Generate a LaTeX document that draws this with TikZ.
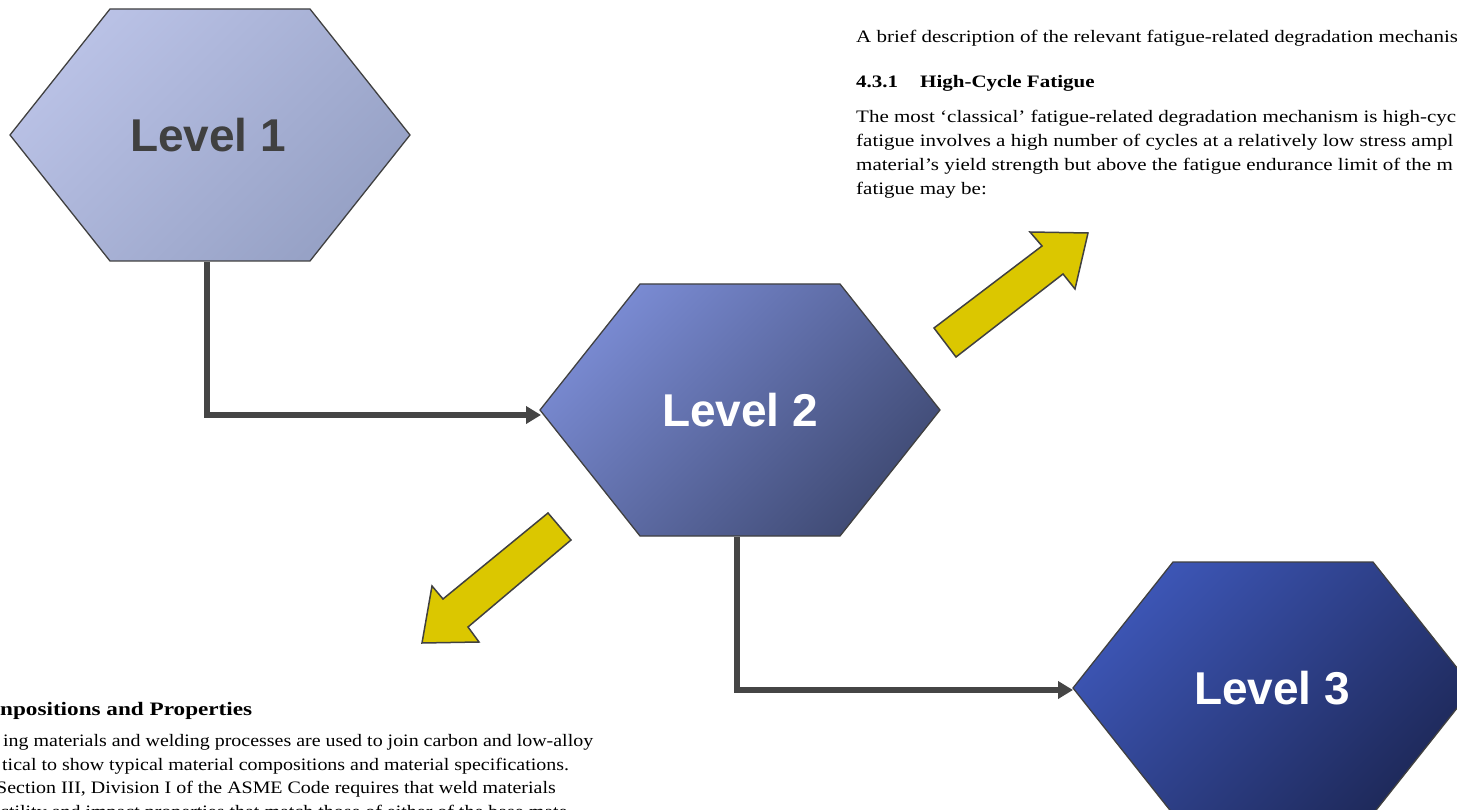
\documentclass[tikz,border=0pt]{standalone}
\usepackage{fontspec}
\setmainfont{Liberation Serif}
\newfontfamily\lvlfont{Liberation Sans}
\newfontfamily\topserif{Liberation Serif}[FakeStretch=1.2]
\newfontfamily\botserif{Liberation Serif}[FakeStretch=1.14]
\newfontfamily\botheadserif{Liberation Serif}[FakeStretch=1.22]
\usetikzlibrary{arrows.meta,positioning,calc}

\definecolor{edgegrey}{HTML}{404040}
\definecolor{linkgrey}{HTML}{454545}
\definecolor{arrowyellow}{HTML}{DBC700}
\definecolor{lvlonetop}{HTML}{BAC2E6}
\definecolor{lvlonebot}{HTML}{96A1C5}
\definecolor{lvltwotop}{HTML}{7A8BD3}
\definecolor{lvltwobot}{HTML}{404B75}
\definecolor{lvlthreetop}{HTML}{3D56B6}
\definecolor{lvlthreebot}{HTML}{1E295A}

\tikzset{
  hexlvl/.style={draw=edgegrey, line width=1.3pt},
  link/.style={draw=linkgrey, line width=5.5pt, -{Triangle[length=15pt,width=17pt]}},
  bigarrow/.style={fill=arrowyellow, draw=edgegrey, line width=1.5pt},
  lvllabel/.style={font=\lvlfont\bfseries\fontsize{46}{50}\selectfont},
  toptext/.style={anchor=base west, inner sep=0pt, font=\topserif\fontsize{17.5}{24}\selectfont},
  tophead/.style={toptext, font=\topserif\fontsize{17.5}{24}\selectfont\bfseries},
  bottext/.style={anchor=base west, inner sep=0pt, font=\botserif\fontsize{17.5}{24}\selectfont},
  bothead/.style={anchor=base west, inner sep=0pt, font=\botheadserif\fontsize{19}{24}\selectfont\bfseries}
}

% hexagon: name, centre x, centre y, top colour, bottom colour
\newcommand{\hexlevel}[5]{%
  \shade[hexlvl, top color=#4, bottom color=#5, shading angle=45]
    (#2-200,#3) -- (#2-100,#3-126) -- (#2+100,#3-126) -- (#2+200,#3)
    -- (#2+100,#3+126) -- (#2-100,#3+126) -- cycle;
  \coordinate (#1-w) at (#2-200,#3);
  \coordinate (#1-s) at (#2-3,#3+127);
}

\begin{document}
\begin{tikzpicture}[x=1pt, y=-1pt]

  \useasboundingbox (0,0) rectangle (1457,810);
  \fill[white] (0,0) rectangle (1457,810);
  \clip (0,0) rectangle (1457,810);

  % === Page text behind the diagram ===
  \node[toptext] (txa) at (856,43)
    {A brief description of the relevant fatigue-related degradation mechanis};
  \node[tophead] (txnum) at (856,88) {4.3.1};
  \node[tophead] (txhead) at (920,88) {High-Cycle Fatigue};
  \node[toptext] (txb1) at (856,123)
    {The most ‘classical’ fatigue-related degradation mechanism is high-cyc};
  \node[toptext] (txb2) at (856,147)
    {fatigue involves a high number of cycles at a relatively low stress ampl};
  \node[toptext] (txb3) at (856,171)
    {material’s yield strength but above the fatigue endurance limit of the m};
  \node[toptext] (txb4) at (856,195) {fatigue may be:};

  \node[bothead] (txc) at (0,715) {npositions and Properties};
  \node[bottext] (txd1) at (3,746)
    {ing materials and welding processes are used to join carbon and low-alloy};
  \node[bottext] (txd2) at (2,770)
    {tical to show typical material compositions and material specifications.};
  \node[bottext] (txd3) at (-4,793)
    {Section III, Division I of the ASME Code requires that weld materials};
  \node[bottext] (txd4) at (0,817)
    {ctility and impact properties that match those of either of the base mate};

  % === Levels ===
  \hexlevel{l1}{210}{135}{lvlonetop}{lvlonebot}
  \node[lvllabel, text=edgegrey] (lv1) at (208,135) {Level 1};

  \hexlevel{l2}{740}{410}{lvltwotop}{lvltwobot}
  \node[lvllabel, text=white] (lv2) at (740,410) {Level 2};

  \hexlevel{l3}{1273}{688}{lvlthreetop}{lvlthreebot}
  \node[lvllabel, text=white] (lv3) at (1272,688) {Level 3};

  % === Connectors ===
  \draw[link] (l1-s) |- ($(l2-w)+(1,5)$);
  \draw[link] (l2-s) |- ($(l3-w)+(0,2)$);

  % === Yellow block arrows ===
  \filldraw[bigarrow] (934,328) -- (1042,246) -- (1030,232) -- (1088,233)
    -- (1075,289) -- (1063,274) -- (956,357) -- cycle;
  \filldraw[bigarrow] (548,513) -- (443,599) -- (432,586) -- (422,643)
    -- (479,642) -- (468,627) -- (571,540) -- cycle;

\end{tikzpicture}
\end{document}
